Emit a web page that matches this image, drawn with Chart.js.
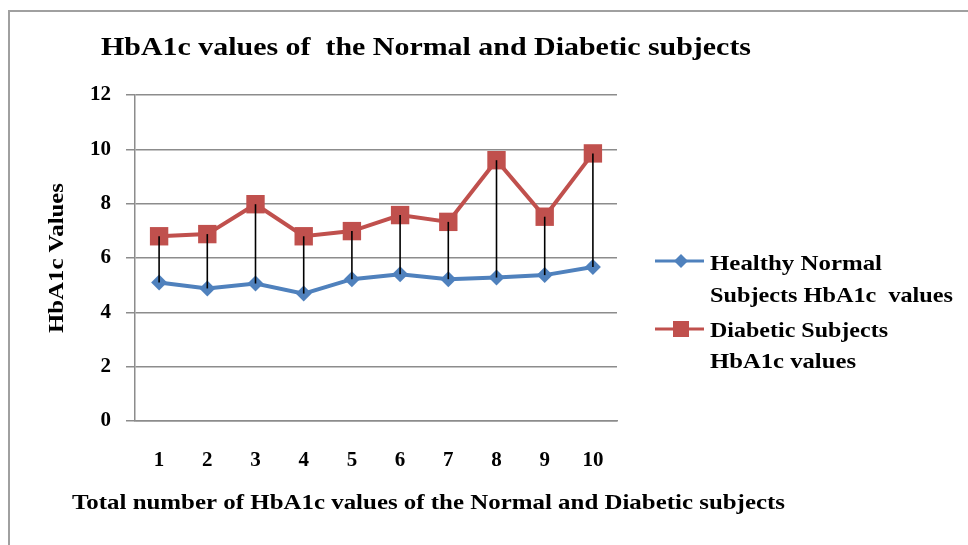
<!DOCTYPE html>
<html><head><meta charset="utf-8">
<script src="https://cdn.jsdelivr.net/npm/chart.js@4/dist/chart.umd.min.js"></script>
<style>html,body{margin:0;padding:0;background:#fff}#wrap{width:968px;height:545px;position:relative}</style>
</head><body><div id="wrap"><canvas id="c" width="968" height="545"></canvas></div>
<script>
const categories = ['1','2','3','4','5','6','7','8','9','10'];
const healthyValues = [5.10, 4.88, 5.06, 4.69, 5.22, 5.40, 5.22, 5.28, 5.37, 5.67];
const diabeticValues = [6.80, 6.88, 7.98, 6.80, 6.99, 7.58, 7.33, 9.60, 7.52, 9.85];
const yTickValues = [0, 2, 4, 6, 8, 10, 12];
const seriesNames = [['Healthy Normal', 'Subjects HbA1c  values'], ['Diabetic Subjects', 'HbA1c values']];
const chartTitle = 'HbA1c values of  the Normal and Diabetic subjects';
const xAxisTitle = 'Total number of HbA1c values of the Normal and Diabetic subjects';
const yAxisTitle = 'HbA1c Values';

const BLUE = '#4f81bd', RED = '#c0504d', GRID = '#8c8c8c';
const SERIF = '"Liberation Serif", "Times New Roman", serif';

function fitText(ctx, text, x, y, w, size, rot) {
  ctx.save();
  ctx.font = 'bold ' + size + 'px ' + SERIF;
  const m = ctx.measureText(text).width;
  ctx.translate(x, y);
  if (rot) ctx.rotate(rot);
  ctx.scale(w / m, 1);
  ctx.fillStyle = '#000';
  ctx.textAlign = 'left';
  ctx.textBaseline = 'alphabetic';
  ctx.fillText(text, 0, 0);
  ctx.restore();
}

const decor = {
  id: 'decor',
  beforeDraw(chart) {
    const ctx = chart.ctx;
    ctx.save();
    ctx.fillStyle = '#fff';
    ctx.fillRect(0, 0, chart.width, chart.height);
    ctx.strokeStyle = '#a0a0a0';
    ctx.lineWidth = 2;
    ctx.strokeRect(9, 11, chart.width + 20, chart.height + 20);
    ctx.restore();
  },
  afterDatasetsDraw(chart) {
    const ctx = chart.ctx;
    const a = chart.getDatasetMeta(0).data, b = chart.getDatasetMeta(1).data;
    ctx.save();
    ctx.strokeStyle = '#000';
    ctx.lineWidth = 1.6;
    for (let i = 0; i < a.length; i++) {
      ctx.beginPath();
      ctx.moveTo(b[i].x, b[i].y);
      ctx.lineTo(a[i].x, a[i].y);
      ctx.stroke();
    }
    ctx.restore();
  },
  afterDraw(chart) {
    const ctx = chart.ctx;
    fitText(ctx, chartTitle, 101, 55, 650, 26);
    fitText(ctx, xAxisTitle, 72, 509, 713, 21);
    fitText(ctx, yAxisTitle, 63, 333, 150, 21, -Math.PI / 2);
    // legend
    ctx.save();
    ctx.lineWidth = 3;
    ctx.strokeStyle = BLUE;
    ctx.beginPath(); ctx.moveTo(655, 261); ctx.lineTo(704, 261); ctx.stroke();
    ctx.fillStyle = BLUE;
    ctx.beginPath(); ctx.moveTo(681, 254); ctx.lineTo(688, 261); ctx.lineTo(681, 268); ctx.lineTo(674, 261); ctx.closePath(); ctx.fill();
    ctx.strokeStyle = RED;
    ctx.beginPath(); ctx.moveTo(655, 329); ctx.lineTo(704, 329); ctx.stroke();
    ctx.fillStyle = RED;
    ctx.fillRect(673, 321, 16, 16);
    ctx.restore();
    fitText(ctx, seriesNames[0][0], 710, 270, 172, 22);
    fitText(ctx, seriesNames[0][1], 710, 302, 243, 22);
    fitText(ctx, seriesNames[1][0], 710, 337, 178, 22);
    fitText(ctx, seriesNames[1][1], 710, 368, 146, 22);
  }
};

new Chart(document.getElementById('c'), {
  type: 'line',
  data: {
    labels: categories,
    datasets: [
      { label: seriesNames[0].join(' '), data: healthyValues, borderColor: BLUE, backgroundColor: BLUE,
        borderWidth: 4, pointStyle: 'rectRot', pointRadius: 8, pointBorderWidth: 0, tension: 0 },
      { label: seriesNames[1].join(' '), data: diabeticValues, borderColor: RED, backgroundColor: RED,
        borderWidth: 4, pointStyle: 'rect', pointRadius: 13, pointBorderWidth: 0, tension: 0 }
    ]
  },
  options: {
    responsive: false,
    animation: false,
    devicePixelRatio: 1,
    layout: { padding: { left: 0, top: 95, right: 351, bottom: 64 } },
    plugins: { legend: { display: false }, title: { display: false }, tooltip: { enabled: false } },
    scales: {
      x: {
        offset: true,
        grid: { display: false, drawTicks: false },
        border: { display: true, color: GRID, width: 1.5 },
        ticks: { color: '#000', font: { family: SERIF, size: 21, weight: 'bold' }, padding: 27, maxRotation: 0 },
        afterFit(s) { s.height = 60; }
      },
      y: {
        min: 0, max: 12,
        afterBuildTicks(s) { s.ticks = yTickValues.map(v => ({ value: v })); },
        grid: { color: GRID, lineWidth: 1.5, tickLength: 9, drawTicks: true },
        border: { display: true, color: GRID, width: 1.5 },
        ticks: { color: '#000', font: { family: SERIF, size: 21, weight: 'bold' }, padding: 15 },
        afterFit(s) { s.width = 135; }
      }
    }
  },
  plugins: [decor]
});
</script></body></html>
